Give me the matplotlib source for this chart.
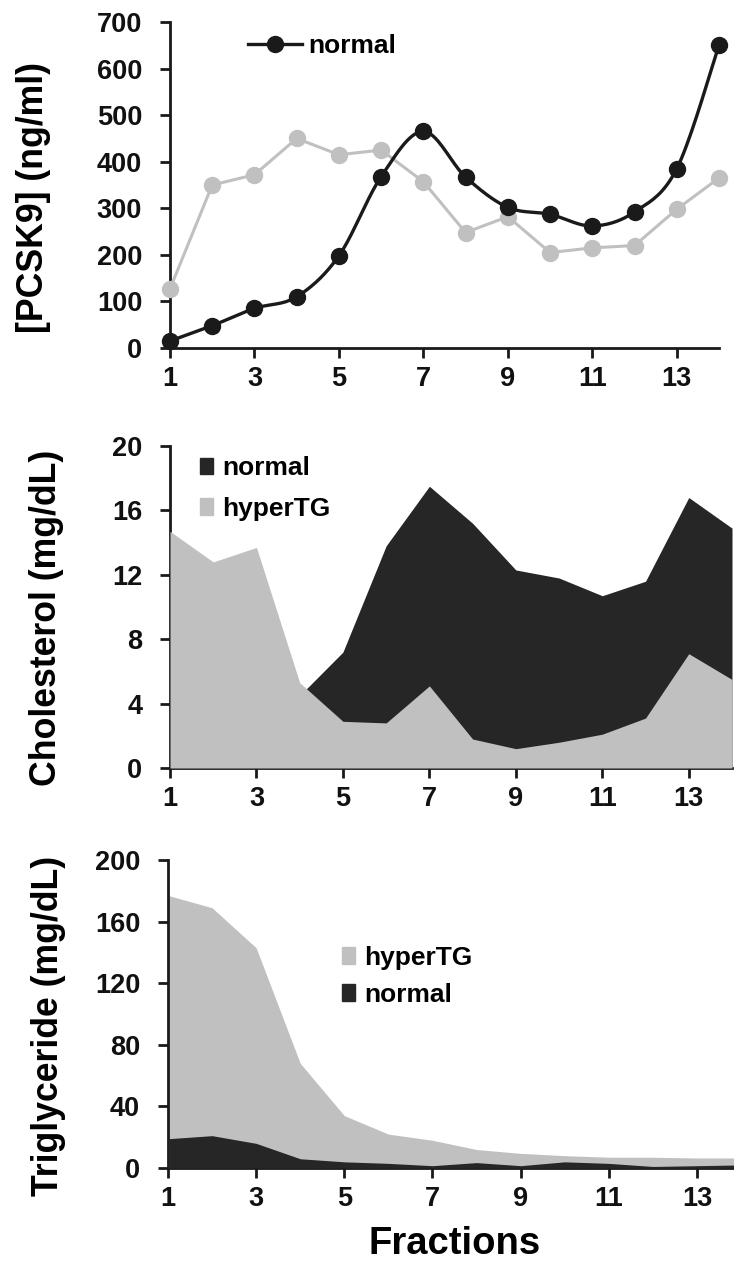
import numpy as np
import matplotlib
matplotlib.use("Agg")
import matplotlib.pyplot as plt
from matplotlib.lines import Line2D
from matplotlib.patches import Patch

plt.rcParams['font.family'] = ['Liberation Sans', 'DejaVu Sans']
plt.rcParams['font.weight'] = 'bold'

fractions = list(range(1, 15))
xtick_labels = [1, 3, 5, 7, 9, 11, 13]

# PCSK9 (ng/ml)
pcsk9_normal = [15, 48, 85, 110, 198, 368, 465, 367, 302, 287, 262, 292, 385, 650]
pcsk9_hypertg = [127, 350, 372, 450, 415, 425, 357, 248, 282, 205, 215, 220, 298, 365]

# Cholesterol (mg/dL)
chol_normal = [1.0, 1.5, 2.5, 4.5, 7.2, 13.8, 17.5, 15.2, 12.3, 11.8, 10.7, 11.6, 16.8, 14.9]
chol_hypertg = [14.7, 12.8, 13.7, 5.3, 2.9, 2.8, 5.1, 1.8, 1.2, 1.6, 2.1, 3.1, 7.1, 5.5]

# Triglyceride (mg/dL)
tg_hypertg = [177, 169, 143, 68, 34, 22, 18, 12, 9.5, 8, 7, 7, 6.5, 6.5]
tg_normal = [19, 21, 16, 6, 4, 3, 1.5, 3.5, 1.5, 4, 3, 1, 1.5, 2]

BLACK = '#262626'
GRAY = '#c0c0c0'
TICK_FS = 19.5
LABEL_FS = 25.7
LEG_FS = 19


def smooth(x, y, n=20, t=0.5):
    x = np.asarray(x, float)
    y = np.asarray(y, float)
    px, py = [], []
    for i in range(len(x) - 1):
        x0, y0 = (x[i - 1], y[i - 1]) if i > 0 else (x[i], y[i])
        x3, y3 = (x[i + 2], y[i + 2]) if i + 2 < len(x) else (x[i + 1], y[i + 1])
        x1, y1, x2, y2 = x[i], y[i], x[i + 1], y[i + 1]
        c1x, c1y = x1 + (x2 - x0) * t / 3, y1 + (y2 - y0) * t / 3
        c2x, c2y = x2 - (x3 - x1) * t / 3, y2 - (y3 - y1) * t / 3
        s = np.linspace(0, 1, n, endpoint=(i == len(x) - 2))
        bx = (1 - s) ** 3 * x1 + 3 * (1 - s) ** 2 * s * c1x + 3 * (1 - s) * s ** 2 * c2x + s ** 3 * x2
        by = (1 - s) ** 3 * y1 + 3 * (1 - s) ** 2 * s * c1y + 3 * (1 - s) * s ** 2 * c2y + s ** 3 * y2
        px.extend(bx)
        py.extend(by)
    return np.array(px), np.array(py)


def style(ax, ylim, yticks, ylabel, label_xy):
    ax.set_xlim(1, 14)
    ax.set_ylim(*ylim)
    ax.set_yticks(yticks)
    ax.set_xticks(xtick_labels)
    for s in ['top', 'right']:
        ax.spines[s].set_visible(False)
    for s in ['left', 'bottom']:
        ax.spines[s].set_linewidth(2.0)
        ax.spines[s].set_color('#1a1a1a')
    ax.tick_params(axis='both', direction='out', length=7, width=2, color='#1a1a1a',
                   labelsize=TICK_FS)
    ax.tick_params(axis='y', pad=13)
    ax.tick_params(axis='x', pad=6)
    for lab in ax.get_xticklabels() + ax.get_yticklabels():
        lab.set_fontweight('bold')
        lab.set_color('#111111')
    ax.set_ylabel(ylabel, fontsize=LABEL_FS, fontweight='bold', va='center', ha='center')
    ax.yaxis.set_label_coords(*label_xy)


fig = plt.figure(figsize=(7.34, 12.64), dpi=100)

# ---- Top: PCSK9 ----
ax1 = fig.add_axes([170 / 734, 916 / 1264, 549 / 734, 326 / 1264])
ax1.plot(fractions, pcsk9_hypertg, color=GRAY, lw=2.2, marker='o', ms=11.5,
         mfc=GRAY, mec=GRAY, clip_on=False, zorder=3)
sx, sy = smooth(fractions, pcsk9_normal)
ax1.plot(sx, sy, color='#1a1a1a', lw=2.4, clip_on=False, zorder=4)
ax1.plot(fractions, pcsk9_normal, ls='none', marker='o', ms=11.5, mfc='#1a1a1a',
         mec='#1a1a1a', clip_on=False, zorder=5)
style(ax1, (0, 700), range(0, 701, 100), '[PCSK9] (ng/ml)', (-0.2495, 0.463))
h1 = Line2D([], [], color='#1a1a1a', lw=2.4, marker='o', ms=11.5)
ax1.legend(handles=[h1], labels=['normal'], loc='center left', frameon=False,
           bbox_to_anchor=(0.142, 0.927), borderpad=0, borderaxespad=0,
           handlelength=2.05, handletextpad=0.25,
           prop={'weight': 'bold', 'size': LEG_FS})

# ---- Middle: Cholesterol ----
ax2 = fig.add_axes([170 / 734, 496 / 1264, 562 / 734, 322 / 1264])
ax2.fill_between(fractions, chol_normal, color=BLACK, lw=0, zorder=2)
ax2.fill_between(fractions, chol_hypertg, color=GRAY, lw=0, zorder=3)
style(ax2, (0, 20), range(0, 21, 4), 'Cholesterol (mg/dL)', (-0.2189, 0.466))
ax2.legend(handles=[Patch(color=BLACK), Patch(color=GRAY)], labels=['normal', 'hyperTG'],
           loc='center left', frameon=False, bbox_to_anchor=(0.0534, 0.868),
           borderpad=0, borderaxespad=0,
           handlelength=0.5, handleheight=0.6, handletextpad=0.35, labelspacing=0.62,
           prop={'weight': 'bold', 'size': LEG_FS})

# ---- Bottom: Triglyceride ----
ax3 = fig.add_axes([168 / 734, 96 / 1264, 573 / 734, 308 / 1264])
ax3.fill_between(fractions, tg_hypertg, color=GRAY, lw=0, zorder=2)
ax3.fill_between(fractions, tg_normal, color=BLACK, lw=0, zorder=3)
style(ax3, (0, 200), range(0, 201, 40), 'Triglyceride (mg/dL)', (-0.2094, 0.461))
ax3.set_xlabel('Fractions', fontsize=27.5, fontweight='bold', labelpad=10)
ax3.legend(handles=[Patch(color=GRAY), Patch(color=BLACK)], labels=['hyperTG', 'normal'],
           loc='center left', frameon=False, bbox_to_anchor=(0.3037, 0.622),
           borderpad=0, borderaxespad=0,
           handlelength=0.5, handleheight=0.6, handletextpad=0.35, labelspacing=0.5,
           prop={'weight': 'bold', 'size': LEG_FS})

fig.savefig('out.png', dpi=100)
